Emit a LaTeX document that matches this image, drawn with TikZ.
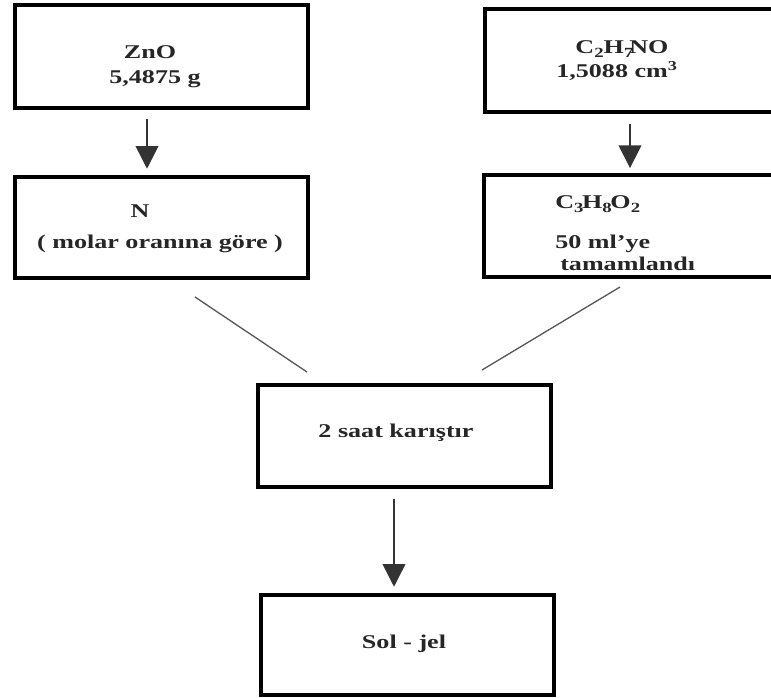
\documentclass[tikz,border=0pt]{standalone}
\usepackage{fontspec}
\setmainfont{Liberation Serif}[FakeStretch=1.34]
\usetikzlibrary{arrows.meta}
% lowered subscript digit, as in the printed formulas
\newcommand{\chsub}[1]{\raisebox{-3.5pt}{\fontsize{10.5}{11}\selectfont #1}}
\begin{document}
\begin{tikzpicture}[x=0.75pt,y=-0.75pt,
  box/.style={draw=black,line width=2.4pt,rectangle,inner sep=0pt},
  lbl/.style={anchor=base,inner sep=0pt,text=black!85,font=\fontsize{14.6}{16}\selectfont\bfseries},
  arr/.style={draw=black!80,line width=1.1pt,-{Triangle[width=17pt,length=17pt]}},
  link/.style={draw=black!65,line width=1pt}]
\useasboundingbox (0,0) rectangle (771,697);
% process boxes
\node[box,minimum width=219.75pt,minimum height=77.25pt] (zno) at (161.5,56.5) {};
\node[box,minimum width=218.25pt,minimum height=77.25pt] (amine) at (630.5,60.5) {};
\node[box,minimum width=219.75pt,minimum height=75.75pt] (ratio) at (161.5,227.5) {};
\node[box,minimum width=219pt,minimum height=76.5pt] (solv) at (630,226) {};
\node[box,minimum width=219.75pt,minimum height=76.5pt] (mix) at (404.5,436) {};
\node[box,minimum width=219.75pt,minimum height=75pt] (soljel) at (407.5,645) {};
% box texts
\node[lbl] (t1) at (150,58) {ZnO};
\node[lbl] (t2) at (155,83) {5,4875 g};
\node[lbl] (t3) at (622,53) {C\chsub{2}H\chsub{7}\kern-3pt NO};
\node[lbl] (t4) at (617,77) {1,5088 cm\textsuperscript{3}};
\node[lbl] (t5) at (140,217) {N};
\node[lbl] (t6) at (160,248) {( molar oranına göre )};
\node[lbl,anchor=base west] (t7) at (555,208) {C\chsub{3}\kern-1pt H\chsub{8}\kern-1pt O\chsub{2}};
\node[lbl,anchor=base west] (t8) at (555,248) {50 ml'ye};
\node[lbl,anchor=base west] (t9) at (560,270) {tamamlandı};
\node[lbl] (t10) at (396,437) {2 saat karıştır};
\node[lbl] (t11) at (404,648) {Sol - jel};
% arrow columns and free ends of the joining lines
\coordinate (c1) at (147,0);
\coordinate (c2) at (630,0);
\coordinate (c3) at (394,0);
\coordinate (l1a) at (195,297);
\coordinate (l1b) at (307,372);
\coordinate (l2a) at (620,287);
\coordinate (l2b) at (482,370);
% connectors
\draw[arr,shorten <=7pt,shorten >=5pt] (zno.south -| c1) -- (ratio.north -| c1);
\draw[arr,shorten <=7.5pt,shorten >=4pt] (amine.south -| c2) -- (solv.north -| c2);
\draw[arr,shorten <=7.5pt,shorten >=5pt] (mix.south -| c3) -- (soljel.north -| c3);
\draw[link] (l1a) -- (l1b);
\draw[link] (l2a) -- (l2b);
\end{tikzpicture}
\end{document}
